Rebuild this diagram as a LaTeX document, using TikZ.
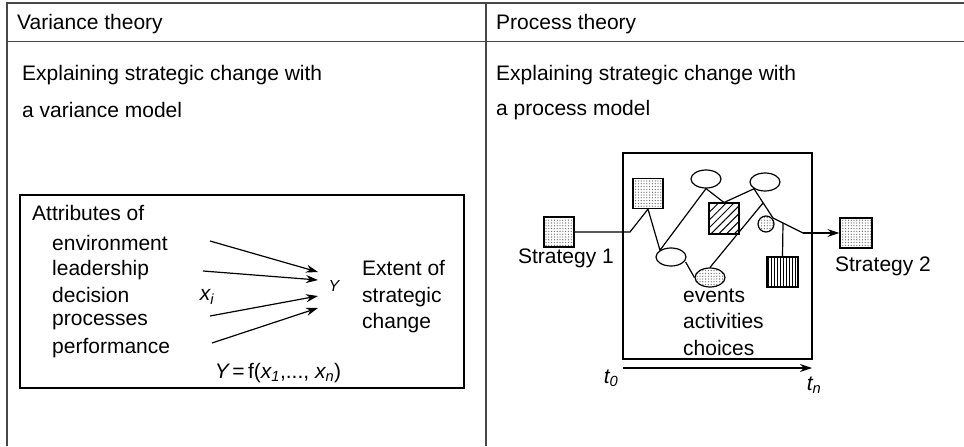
\documentclass[tikz,border=0pt]{standalone}
\usepackage{fontspec}
\setmainfont{Liberation Sans}
\usetikzlibrary{arrows.meta,shapes.geometric,patterns.meta}
\begin{document}
\begin{tikzpicture}[x=1pt,y=-1pt,
  tab/.style={line width=1.6pt, draw=black!72},
  ln/.style={line width=1.2pt},
  txt/.style={inner sep=0pt, anchor=west, font=\fontsize{21}{26.5}\selectfont, align=left},
  sym/.style={inner sep=0pt, font=\fontsize{21}{26}\selectfont},
  ar/.style={-{Stealth[length=12pt,width=8pt]}},
  dotpat/.style={pattern={Dots[radius=0.65pt,distance=2.8pt]}, pattern color=black!60},
  dotsq/.style={draw, line width=1.2pt, minimum width=30pt, minimum height=30pt, inner sep=0pt, dotpat},
  hatsq/.style={draw, line width=1.2pt, minimum width=30pt, minimum height=31pt, inner sep=0pt,
    pattern={Lines[angle=45,distance=5.5pt,line width=1pt]}},
  vsq/.style={draw, line width=1.2pt, minimum width=31pt, minimum height=30pt, inner sep=0pt,
    pattern={Lines[angle=90,distance=3pt,line width=0.9pt]}},
  ell/.style={draw, line width=1.2pt, ellipse, minimum width=30pt, minimum height=18pt, inner sep=0pt},
  dotell/.style={ell, dotpat},
  dotcirc/.style={draw, line width=1.2pt, circle, minimum size=16pt, inner sep=0pt, dotpat}
]
\useasboundingbox (0,0) rectangle (964,447);

% table
\draw[tab] (964,3) -- (7,3) -- (7,446);
\draw[tab] (486,3) -- (486,446);
\draw[tab] (7,41.5) -- (964,41.5);

% left panel
\node[txt] (vt) at (17,24) {Variance theory};
\node[txt] (vx1) at (22,75) {Explaining strategic change with};
\node[txt] (vx2) at (22,110) {a variance model};
\draw[ln] (20,195) rectangle (464,388);
\node[txt] (attr) at (32,213) {Attributes of};
\node[txt] (env) at (52,243) {environment};
\node[txt] (lead) at (52,270) {leadership};
\node[txt] (dec) at (52,295) {decision};
\node[txt] (proc) at (52,322) {processes};
\node[txt] (perf) at (52,348) {performance};
\node[sym] (xi) at (207,297) {\itshape x\textsubscript{i}};
\node[sym, font=\fontsize{16}{18}\selectfont] (Y) at (334,286) {\itshape Y};
\node[txt] (ext) at (362,297) {Extent of\\strategic\\change};
\node[sym] (form) at (278,373) {\itshape Y\upshape\,=\,f(\itshape x\textsubscript{1}\upshape,..., \itshape x\textsubscript{n}\upshape)};
\coordinate (a1) at (210,241); \coordinate (b1) at (318,272);
\coordinate (a2) at (203,271); \coordinate (b2) at (318,280);
\coordinate (a3) at (210,316); \coordinate (b3) at (318,296);
\coordinate (a4) at (212,343); \coordinate (b4) at (318,308);
\foreach \i in {1,2,3,4} \draw[ln,ar] (a\i) -- (b\i);

% right panel
\node[txt] (pt) at (496,24) {Process theory};
\node[txt] (px1) at (496,75) {Explaining strategic change with};
\node[txt] (px2) at (496,110) {a process model};
\draw[ln] (623,153) rectangle (812,359);

\node[dotsq] (s1) at (559,232) {};
\node[sym] (s1l) at (566,258) {Strategy 1};
\node[dotsq] (sa) at (648,193.5) {};
\node[ell] (e1) at (671,257) {};
\node[ell] (e2) at (706,179) {};
\node[hatsq] (h) at (724,218.5) {};
\node[ell] (e3) at (765,182) {};
\node[dotcirc] (c) at (766,224) {};
\node[vsq] (v) at (782.5,272) {};
\node[dotell, minimum height=19pt] (e4) at (710,277.5) {};
\node[dotsq, minimum width=32pt] (s2) at (856,233) {};
\node[sym] (s2l) at (883,266) {Strategy 2};

\coordinate (k1) at (630,232);
\coordinate (k2) at (763,203);
\coordinate (k3) at (773,218);
\coordinate (k4) at (783,223);
\coordinate (k5) at (803,233);
\draw[ln] (s1.east) -- (k1) -- (sa.south) -- (e1.north west) -- (e2.south) -- (h.north) -- (e3.south west) -- (k3) -- (k5);
\draw[ln,ar] (k5) -- (s2.west);
\draw[ln] (k2) -- (e4.north);
\draw[ln] (k4) -- (v.north);
\draw[ln] (e1.east) ++(-1,5) -- (e4.west);

\node[txt] (ev) at (683,322) {events\\activities\\choices};

\coordinate (t0) at (623,368);
\coordinate (tn) at (812,368);
\draw[ln,ar] (t0) -- (tn);
\node[sym] (t0l) at (611,378) {\itshape t\textsubscript{0}};
\node[sym] (tnl) at (814,385) {\itshape t\textsubscript{n}};
\end{tikzpicture}
\end{document}
